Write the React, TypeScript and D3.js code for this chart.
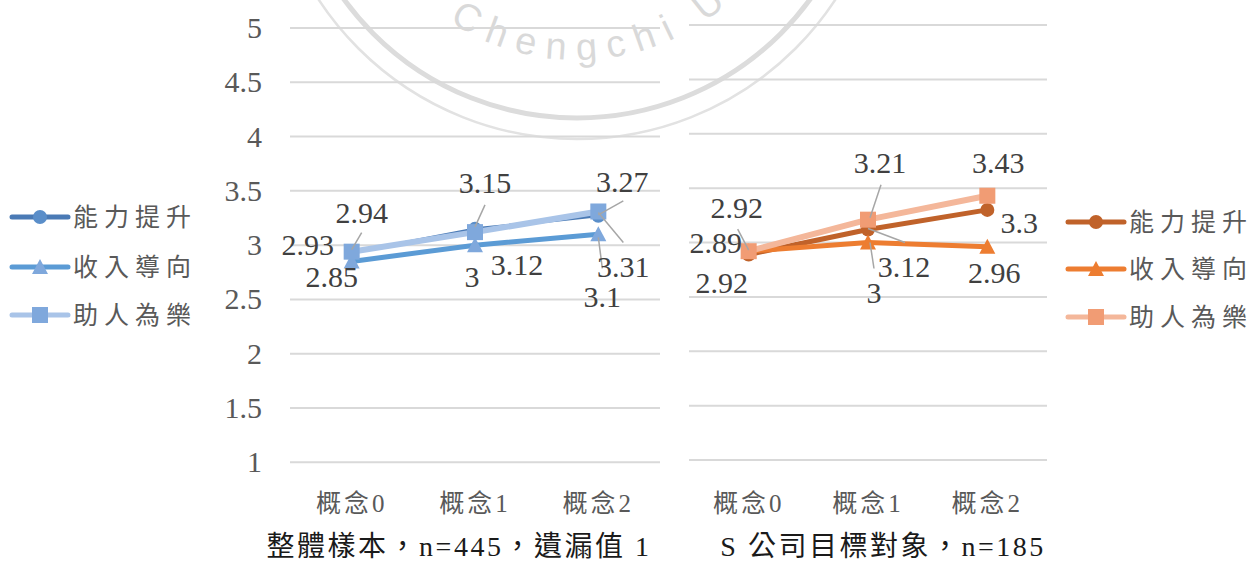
import React from 'react';
import * as d3 from 'd3';

// ---------- data ----------
const categories = ['概念0', '概念1', '概念2'];
const seriesNames = ['能力提升', '收入導向', '助人為樂'];
const yTicks = [1, 1.5, 2, 2.5, 3, 3.5, 4, 4.5, 5];

const leftAbility = [2.93, 3.15, 3.27];
const leftIncome = [2.85, 3, 3.1];
const leftHelping = [2.94, 3.12, 3.31];

const rightAbility = [2.89, 3.12, 3.3];
const rightIncome = [2.92, 3, 2.96];
const rightHelping = [2.92, 3.21, 3.43];

const leftTitle = '整體樣本，n=445，遺漏值 1';
const rightTitle = 'S 公司目標對象，n=185';

// ---------- label layout (offsets from each point: label center/baseline, optional leader) ----------
type Off = { d: [number, number]; lead?: [number, number, number, number] };
const leftLabelLayout: Off[][] = [
  [{ d: [-44, 2] }, { d: [10, -36], lead: [0, -2, 10, -24] }, { d: [24, -24], lead: [0, -1, 25, -15] }],
  [{ d: [-20, 26] }, { d: [-3, 42] }, { d: [4, 73], lead: [0, 3, 4, 34] }],
  [{ d: [10, -29], lead: [0, -2, 10, -19] }, { d: [42, 43] }, { d: [25, 66], lead: [0, 1, 25, 31] }],
];
const rightLabelLayout: Off[][] = [
  [{ d: [-33, -1] }, { d: [36, 48], lead: [0, -1, 37, 13] }, { d: [32, 23] }],
  [{ d: [-27, 42] }, { d: [6, 60], lead: [2, 0, 6, 26] }, { d: [7, 36] }],
  [{ d: [-12, -33], lead: [0, -1, -11, -22] }, { d: [12, -47], lead: [2, -2, 13, -35] }, { d: [11, -23] }],
];

const shapes = ['circle', 'triangle', 'square'];

const leftStyle = [
  { line: '#4a7ab5', marker: '#5a8ec9', width: 3 },
  { line: '#5b9bd5', marker: '#7fa8dc', width: 5 },
  { line: '#a9c4e8', marker: '#7fa8dc', width: 6 },
];
const rightStyle = [
  { line: '#c0622a', marker: '#c0622a', width: 5 },
  { line: '#ed7d31', marker: '#ed7d31', width: 5 },
  { line: '#f4b79a', marker: '#f19c74', width: 6 },
];

const SERIF = "'Liberation Serif', 'DejaVu Serif', 'Times New Roman', serif";
const CJK = "'Liberation Serif', 'DejaVu Serif', 'Noto Sans CJK TC', serif";

function Marker({ shape, x, y, fill }: { shape: string; x: number; y: number; fill: string }) {
  if (shape === 'circle') return <circle cx={x} cy={y} r={7} fill={fill} />;
  if (shape === 'square') return <rect x={x - 8} y={y - 8} width={16} height={16} fill={fill} />;
  const h = 14, w = 16;
  return <path d={`M${x},${y - h / 2 - 1}L${x + w / 2},${y + h / 2}L${x - w / 2},${y + h / 2}Z`} fill={fill} />;
}

function Panel({
  xr, yr, data, styles, layout, showAxis, title, titleX,
}: {
  xr: [number, number]; yr: [number, number]; data: number[][]; styles: any[]; layout: Off[][];
  showAxis: boolean; title: string; titleX: number;
}) {
  const x = d3.scalePoint<string>().domain(categories).range(xr).padding(0.5);
  const y = d3.scaleLinear().domain([1, 5]).range(yr);
  const line = d3.line<number>().x((_, i) => x(categories[i])!).y((v) => y(v));
  return (
    <g>
      {yTicks.map((t) => (
        <line key={t} x1={xr[0]} x2={xr[1]} y1={y(t)} y2={y(t)} stroke="#d9d9d9" strokeWidth={2} />
      ))}
      {showAxis &&
        yTicks.map((t) => (
          <text key={'l' + t} x={262} y={y(t) + 10} textAnchor="end" style={{ fontFamily: SERIF, fontSize: 30 }} fill="#595959">
            {String(t)}
          </text>
        ))}
      {categories.map((c) => (
        <text key={c} x={x(c)} y={512} textAnchor="middle" style={{ fontFamily: CJK, fontSize: 25, letterSpacing: 3 }} fill="#595959">
          {c}
        </text>
      ))}
      <text x={titleX} y={556} textAnchor="middle" style={{ fontFamily: CJK, fontSize: 28, letterSpacing: 2.5 }} fill="#1a1a1a">
        {title}
      </text>
      {data.map((vals, si) => (
        <g key={si}>
          <path d={line(vals)!} fill="none" stroke={styles[si].line} strokeWidth={styles[si].width} strokeLinejoin="round" />
          {vals.map((v, i) => (
            <Marker key={i} shape={shapes[si]} x={x(categories[i])!} y={y(v)} fill={styles[si].marker} />
          ))}
        </g>
      ))}
      {data.map((vals, si) =>
        vals.map((v, i) => {
          const px = x(categories[i])!;
          const py = y(v);
          const L = layout[si][i];
          return (
            <g key={si + '-' + i}>
              {L.lead && (
                <line x1={px + L.lead[0]} y1={py + L.lead[1]} x2={px + L.lead[2]} y2={py + L.lead[3]} stroke="#a6a6a6" strokeWidth={1.5} />
              )}
              <text x={px + L.d[0]} y={py + L.d[1]} textAnchor="middle" style={{ fontFamily: SERIF, fontSize: 30 }} fill="#404040">
                {String(v)}
              </text>
            </g>
          );
        })
      )}
    </g>
  );
}

function Legend({ x0, rows, styles }: { x0: number; rows: number[]; styles: any[] }) {
  return (
    <g>
      {seriesNames.map((n, i) => (
        <g key={n}>
          <line x1={x0} x2={x0 + 56} y1={rows[i]} y2={rows[i]} stroke={styles[i].line} strokeWidth={5} strokeLinecap="round" />
          <Marker shape={shapes[i]} x={x0 + 28} y={rows[i]} fill={styles[i].marker} />
          <text x={x0 + 61} y={rows[i] + 9} style={{ fontFamily: CJK, fontSize: 25, letterSpacing: 6 }} fill="#595959">
            {n}
          </text>
        </g>
      ))}
    </g>
  );
}

export default function App() {
  const wcx = 577, wcy = -170, wr = 230;
  return (
    <svg width={1255} height={563} style={{ position: 'absolute', left: 0, top: 0, background: '#fff' }}>
      {/* watermark */}
      <g>
        <circle cx={wcx} cy={wcy} r={288} fill="none" stroke="#dcdcdc" strokeWidth={5} />
        <circle cx={wcx} cy={wcy} r={309} fill="none" stroke="#e2e2e2" strokeWidth={2.5} />
        <path id="wmArc" d={`M${wcx - wr},${wcy} A${wr},${wr} 0 0 0 ${wcx + wr},${wcy}`} fill="none" />
        <text style={{ fontFamily: "'Liberation Sans', Arial, sans-serif", fontSize: 38, letterSpacing: 11 }} fill="#d9d9d9">
          <textPath href="#wmArc" startOffset={226}>Chengchi University</textPath>
        </text>
      </g>
      <Panel
        xr={[290, 660]}
        yr={[462.3, 28]}
        data={[leftAbility, leftIncome, leftHelping]}
        styles={leftStyle}
        layout={leftLabelLayout}
        showAxis={true}
        title={leftTitle}
        titleX={459}
      />
      <Panel
        xr={[689, 1047]}
        yr={[460, 25]}
        data={[rightAbility, rightIncome, rightHelping]}
        styles={rightStyle}
        layout={rightLabelLayout}
        showAxis={false}
        title={rightTitle}
        titleX={883}
      />
      <Legend x0={12} rows={[217, 267, 315]} styles={leftStyle} />
      <Legend x0={1068} rows={[222, 269, 317]} styles={rightStyle} />
    </svg>
  );
}
